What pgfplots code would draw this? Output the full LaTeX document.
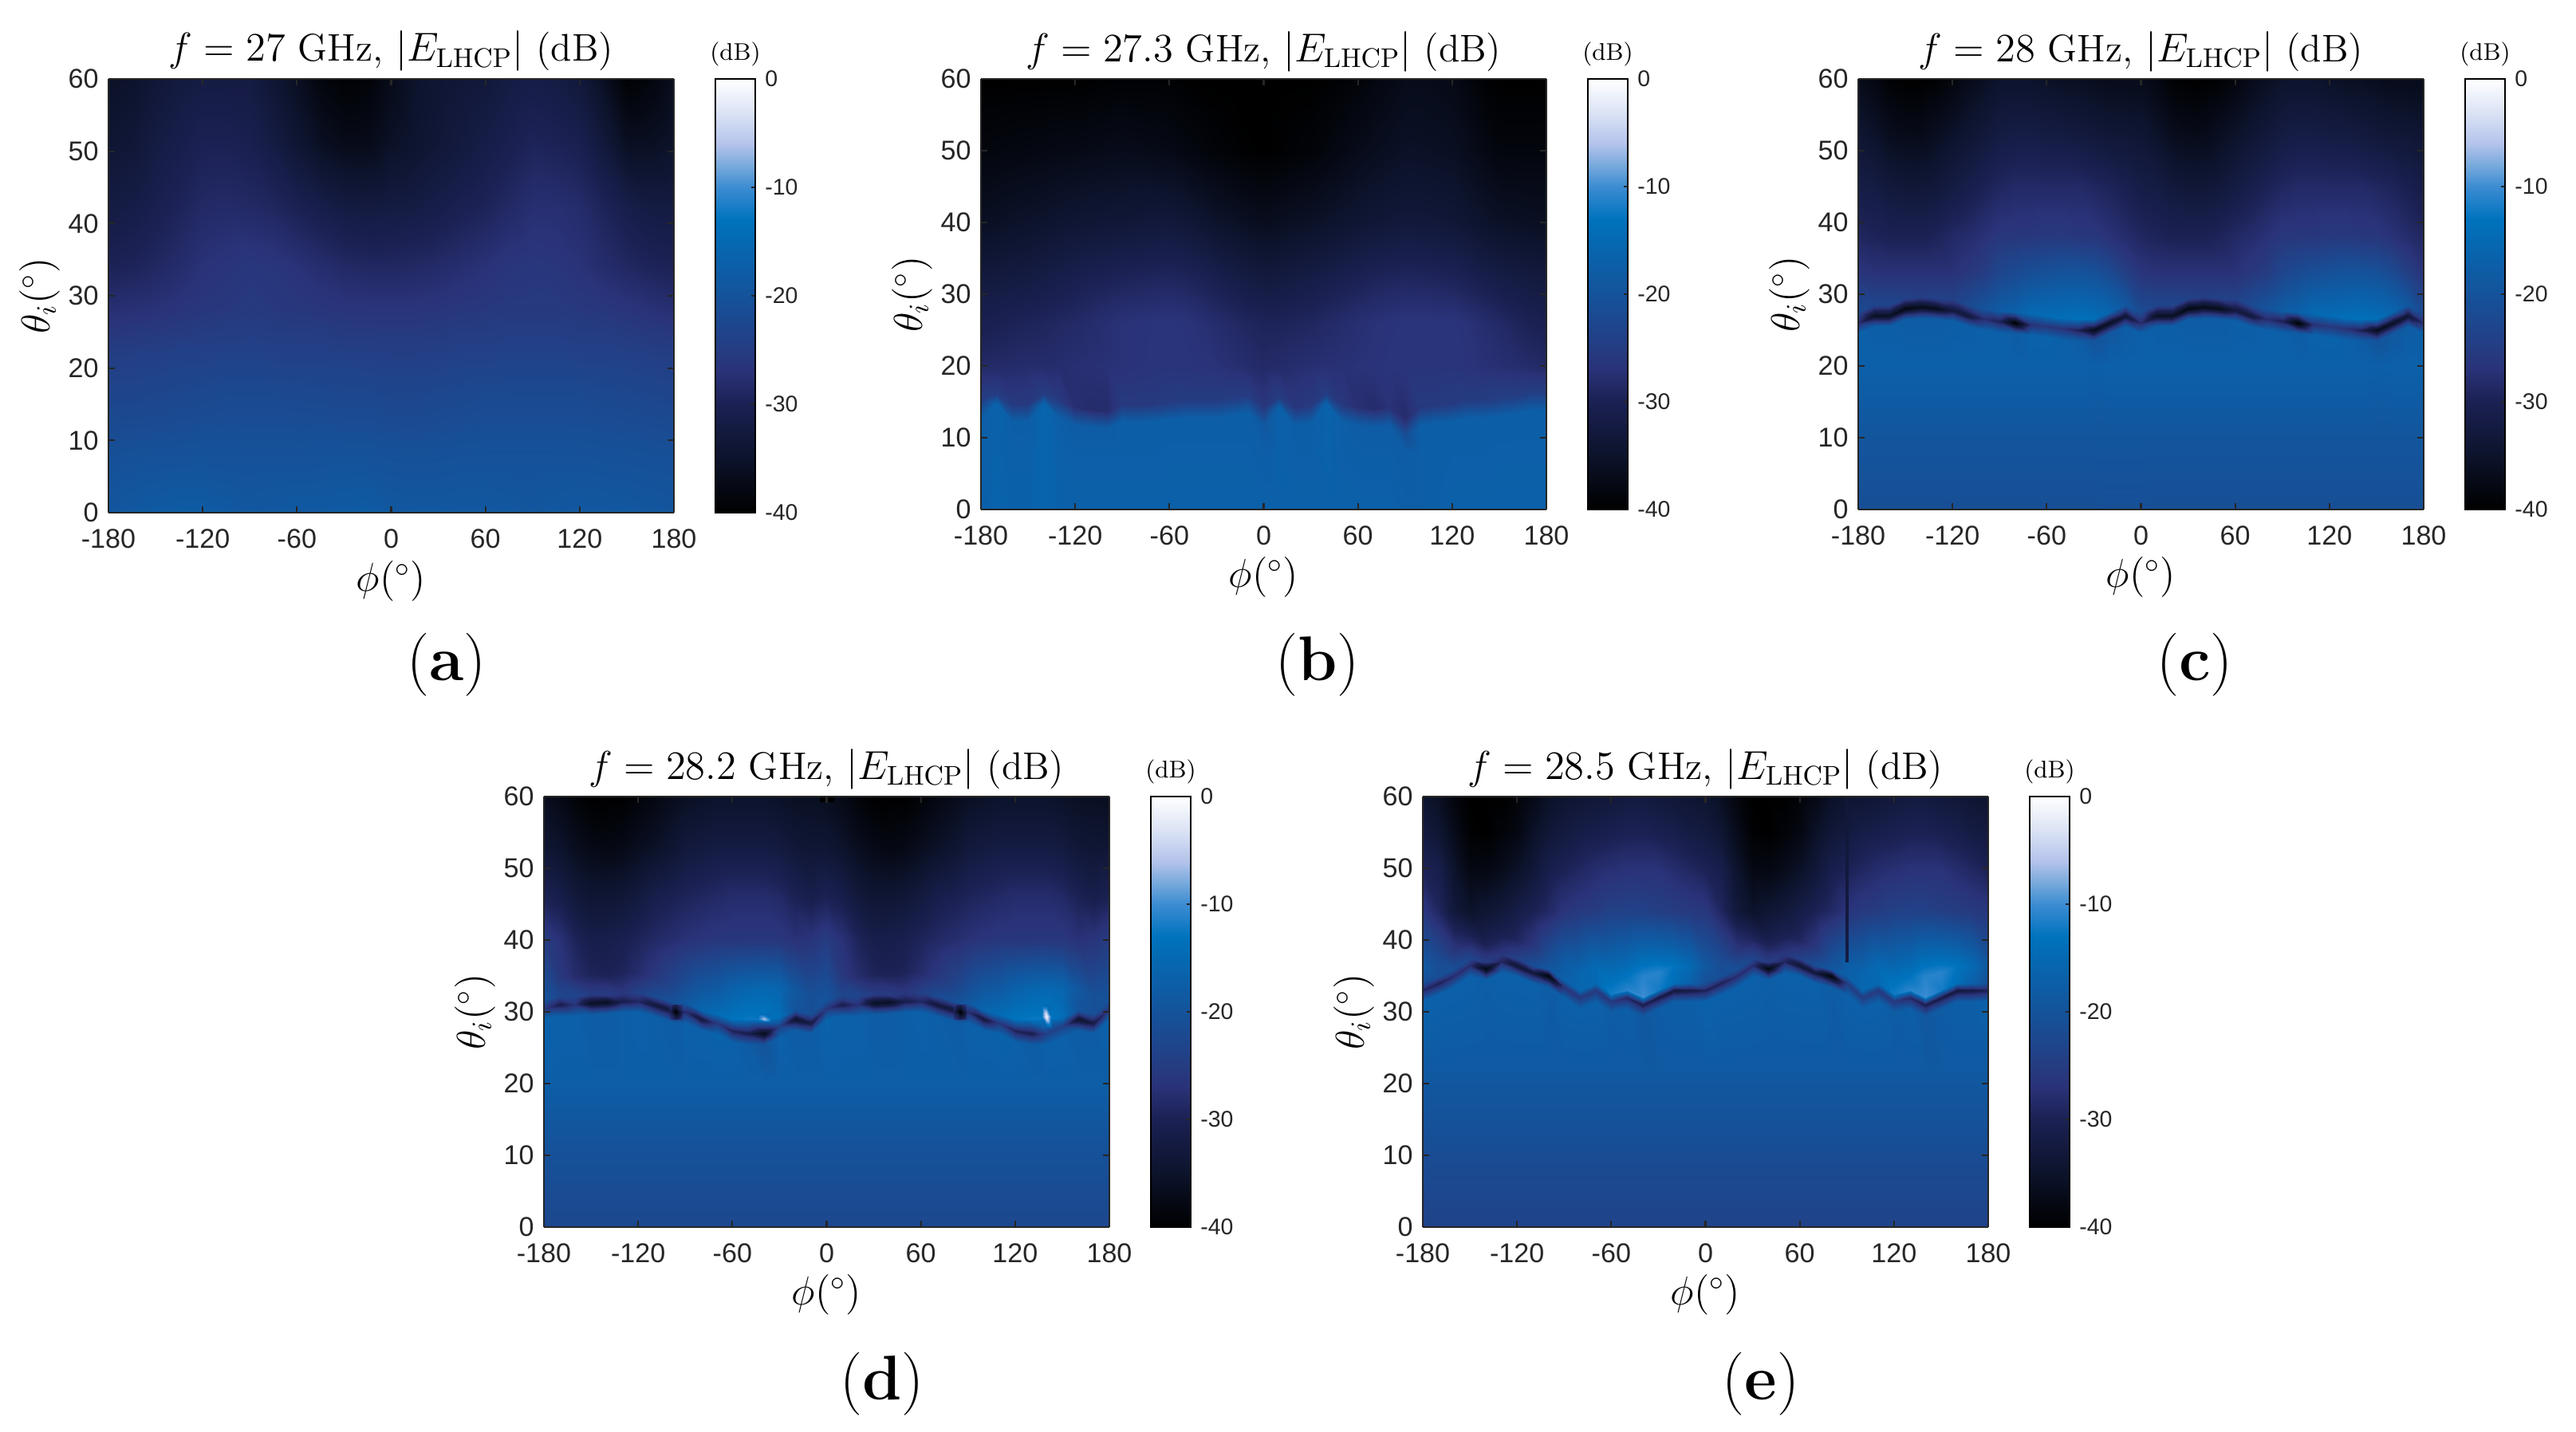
\documentclass[border=0pt]{standalone}
\usepackage{fontspec}
\usepackage{pgfplots}
\pgfplotsset{compat=1.18}
\newfontfamily\tickfont{Liberation Sans}
\definecolor{axc}{RGB}{38,38,38}
\pgfplotsset{
  colormap={dbm}{rgb255(0pt)=(0,0,0); rgb255(5pt)=(12,19,43); rgb255(10pt)=(27,33,83); rgb255(13pt)=(42,50,120);
    rgb255(15pt)=(37,60,130); rgb255(20pt)=(20,83,155); rgb255(25pt)=(5,105,178); rgb255(27pt)=(0,115,190);
    rgb255(30pt)=(60,140,210); rgb255(32pt)=(120,170,220); rgb255(34pt)=(180,195,235); rgb255(37pt)=(220,228,245); rgb255(40pt)=(255,255,255)},
  panel/.style={
    view={0}{90}, scale only axis, width=7.09cm, height=5.40cm,
    xmin=-180, xmax=180, ymin=0, ymax=60, zmin=-40, zmax=0,
    point meta min=-40, point meta max=0,
    xtick={-180,-120,-60,0,60,120,180}, xticklabels={-180,-120,-60,0,60,120,180},
    ytick={0,10,20,30,40,50,60}, yticklabels={0,10,20,30,40,50,60},
    tick align=inside, major tick length=0.08cm, axis on top,
    axis line style={draw=axc, line width=0.6pt},
    every tick/.style={draw=axc, line width=0.6pt},
    tick label style={font=\tickfont\fontsize{9.7}{11}\selectfont, text=axc},
    xticklabel style={yshift=-0.08cm},
    xlabel={$\phi(^\circ)$}, ylabel={$\theta_i(^\circ)$},
    every axis x label/.style={at={(axis description cs:0.5,-0.158)}, anchor=center, font=\fontsize{14}{16}\selectfont},
    every axis y label/.style={at={(axis description cs:-0.122,0.5)}, anchor=center, rotate=90, font=\fontsize{14}{16}\selectfont},
    every axis title/.style={at={(axis description cs:0.5,1.064)}, anchor=center, font=\fontsize{13.75}{16}\selectfont},
    colorbar, colorbar shift/.style={xshift=0.52cm},
    colorbar style={
      at={(parent axis.north east)}, anchor=north west, width=0.50cm,
      ytick={-40,-30,-20,-10,0}, yticklabels={-40,-30,-20,-10,0},
      ytick pos=right, yticklabel pos=right, major tick length=0.05cm,
      tick label style={font=\tickfont\fontsize{8.1}{10}\selectfont, text=axc},
      title={(dB)},
      every axis title/.style={at={(axis description cs:0.5,1.058)}, anchor=center, font=\fontsize{8.6}{10}\selectfont},
    },
  },
  hm/.style={surf, shader=interp, mesh/ordering=x varies, mesh/cols=#1},
}
\begin{document}
\begin{tikzpicture}
\path[use as bounding box] (0,0) rectangle (32.30,17.96);

% (a) 27 GHz
\begin{axis}[panel, at={(1.36cm,11.53cm)}, anchor=south west, height=5.44cm, title={$f=27$ GHz, $|E_{\mathrm{LHCP}}|$ (dB)}]
\addplot3[hm=25] coordinates {
(-180,0,-19.5) (-165,0,-18.8) (-150,0,-18.3) (-135,0,-18) (-120,0,-18) (-105,0,-18.5) (-90,0,-19) (-75,0,-18.8) (-60,0,-18.5) (-45,0,-18.5) (-30,0,-18.2) (-15,0,-18) (0,0,-18.8) (15,0,-19) (30,0,-19) (45,0,-18.8) (60,0,-18.8) (75,0,-19) (90,0,-19.3) (105,0,-19) (120,0,-18.8) (135,0,-18.8) (150,0,-19) (165,0,-19.2) (180,0,-19.5)
(-180,8,-20.8) (-165,8,-20.6) (-150,8,-20.5) (-135,8,-20.4) (-120,8,-20.3) (-105,8,-20.3) (-90,8,-20.4) (-75,8,-20.4) (-60,8,-20.4) (-45,8,-20.3) (-30,8,-20.3) (-15,8,-20.3) (0,8,-20.5) (15,8,-20.6) (30,8,-20.5) (45,8,-20.4) (60,8,-20.3) (75,8,-20.3) (90,8,-20.3) (105,8,-20.3) (120,8,-20.4) (135,8,-20.5) (150,8,-20.6) (165,8,-20.7) (180,8,-20.8)
(-180,16,-23) (-165,16,-23) (-150,16,-22.8) (-135,16,-22.5) (-120,16,-22.3) (-105,16,-22) (-90,16,-22) (-75,16,-22) (-60,16,-22.2) (-45,16,-22.3) (-30,16,-22.5) (-15,16,-22.5) (0,16,-22.8) (15,16,-22.8) (30,16,-22.5) (45,16,-22.3) (60,16,-22) (75,16,-22) (90,16,-22) (105,16,-22) (120,16,-22) (135,16,-22.3) (150,16,-22.5) (165,16,-22.8) (180,16,-23)
(-180,22,-24.5) (-165,22,-24.5) (-150,22,-24.3) (-135,22,-24) (-120,22,-24) (-105,22,-23.8) (-90,22,-23.8) (-75,22,-24) (-60,22,-24) (-45,22,-24) (-30,22,-24.2) (-15,22,-24.3) (0,22,-24.5) (15,22,-24.5) (30,22,-24.3) (45,22,-24) (60,22,-24) (75,22,-23.8) (90,22,-23.8) (105,22,-23.8) (120,22,-24) (135,22,-24) (150,22,-24.2) (165,22,-24.5) (180,22,-24.5)
(-180,28,-27.5) (-165,28,-27.2) (-150,28,-27) (-135,28,-26.5) (-120,28,-26) (-105,28,-25.8) (-90,28,-25.5) (-75,28,-25.8) (-60,28,-26) (-45,28,-26.2) (-30,28,-26.5) (-15,28,-26.5) (0,28,-26.5) (15,28,-26.5) (30,28,-26.3) (45,28,-26) (60,28,-25.8) (75,28,-25.5) (90,28,-25.5) (105,28,-25.5) (120,28,-25.8) (135,28,-26) (150,28,-26.5) (165,28,-27) (180,28,-27.5)
(-180,34,-29.8) (-165,34,-29.5) (-150,34,-28.8) (-135,34,-28) (-120,34,-27) (-105,34,-26.5) (-90,34,-26) (-75,34,-26.3) (-60,34,-27) (-45,34,-27.8) (-30,34,-28.5) (-15,34,-28.8) (0,34,-28.8) (15,34,-28.6) (30,34,-28.2) (45,34,-27.6) (60,34,-27) (75,34,-26.3) (90,34,-26) (105,34,-26.3) (120,34,-27) (135,34,-28) (150,34,-28.8) (165,34,-29.5) (180,34,-29.8)
(-180,42,-32) (-165,42,-31.5) (-150,42,-30.5) (-135,42,-29.5) (-120,42,-28.5) (-105,42,-28.3) (-90,42,-28.5) (-75,42,-29) (-60,42,-30) (-45,42,-31) (-30,42,-32) (-15,42,-32.3) (0,42,-32) (15,42,-31.8) (30,42,-31) (45,42,-30.2) (60,42,-29.5) (75,42,-28.5) (90,42,-27.5) (105,42,-27.5) (120,42,-28) (135,42,-29.5) (150,42,-31) (165,42,-32) (180,42,-32)
(-180,51,-34) (-165,51,-33.5) (-150,51,-32) (-135,51,-31) (-120,51,-30) (-105,51,-30) (-90,51,-30.5) (-75,51,-32) (-60,51,-34) (-45,51,-36) (-30,51,-37) (-15,51,-37) (0,51,-35.5) (15,51,-34.5) (30,51,-33.5) (45,51,-32.5) (60,51,-31.5) (75,51,-30.5) (90,51,-29.5) (105,51,-29.8) (120,51,-30.5) (135,51,-33) (150,51,-36) (165,51,-36) (180,51,-35)
(-180,60,-35.5) (-165,60,-35) (-150,60,-33.5) (-135,60,-32.5) (-120,60,-32) (-105,60,-32) (-90,60,-32) (-75,60,-34) (-60,60,-36) (-45,60,-38.5) (-30,60,-39.5) (-15,60,-39) (0,60,-37) (15,60,-35) (30,60,-34) (45,60,-33.5) (60,60,-33) (75,60,-32) (90,60,-31.5) (105,60,-32) (120,60,-33) (135,60,-36) (150,60,-39.5) (165,60,-38.5) (180,60,-36.5)
};
\end{axis}

% (b) 27.3 GHz
\begin{axis}[panel, at={(12.30cm,11.57cm)}, anchor=south west, title={$f=27.3$ GHz, $|E_{\mathrm{LHCP}}|$ (dB)}]
\addplot3[hm=37] coordinates {
(-180,0,-17) (-170,0,-16.3) (-160,0,-16.8) (-150,0,-16.8) (-140,0,-16) (-130,0,-16.8) (-120,0,-17) (-110,0,-17) (-100,0,-17) (-90,0,-17) (-80,0,-17) (-70,0,-17) (-60,0,-17) (-50,0,-17) (-40,0,-17) (-30,0,-17) (-20,0,-17) (-10,0,-17) (0,0,-17) (10,0,-17) (20,0,-17) (30,0,-17) (40,0,-17) (50,0,-17) (60,0,-17) (70,0,-17) (80,0,-17) (90,0,-17.5) (100,0,-17.5) (110,0,-17.3) (120,0,-17) (130,0,-17) (140,0,-17) (150,0,-17) (160,0,-17) (170,0,-17) (180,0,-17)
(-180,8,-17.2) (-170,8,-16.5) (-160,8,-17) (-150,8,-17) (-140,8,-16) (-130,8,-17) (-120,8,-17.3) (-110,8,-17.3) (-100,8,-17.3) (-90,8,-17.3) (-80,8,-17.3) (-70,8,-17.3) (-60,8,-17.2) (-50,8,-17.2) (-40,8,-17.2) (-30,8,-17.2) (-20,8,-17.2) (-10,8,-17.2) (0,8,-17.6) (10,8,-16.8) (20,8,-17.3) (30,8,-17.3) (40,8,-16.5) (50,8,-17.3) (60,8,-17.5) (70,8,-17.5) (80,8,-17.5) (90,8,-18) (100,8,-17.5) (110,8,-17.5) (120,8,-17.3) (130,8,-17.3) (140,8,-17.3) (150,8,-17.2) (160,8,-17.2) (170,8,-17.2) (180,8,-17.2)
(-180,12.8,-17.5) (-170,14.8,-16.5) (-160,12.3,-17.5) (-150,12.3,-17.5) (-140,14.8,-16) (-130,12.8,-17.5) (-120,11.8,-18) (-110,11.5,-18) (-100,11.3,-18) (-90,12.3,-17.5) (-80,12.1,-17.5) (-70,12.3,-17.5) (-60,12.5,-17.5) (-50,12.8,-17.5) (-40,12.8,-17.5) (-30,12.8,-17.5) (-20,13.1,-17.5) (-10,13.5,-17.5) (0,11.8,-19) (10,14.3,-17) (20,11.8,-17.5) (30,12.1,-17.5) (40,14.8,-16.5) (50,12.3,-17.5) (60,11.8,-18) (70,11.6,-18) (80,11.8,-18) (90,10.3,-21) (100,11.8,-17.5) (110,12.1,-17.5) (120,12.3,-17.5) (130,12.8,-17.5) (140,12.8,-17.5) (150,13,-17.5) (160,13.3,-17.5) (170,13.8,-17.5) (180,13.8,-17.5)
(-180,15.2,-24.5) (-170,16.2,-25) (-160,14.7,-25.5) (-150,14.7,-25.5) (-140,16.2,-25) (-130,15.2,-25.5) (-120,14.2,-27.5) (-110,13.9,-28) (-100,13.7,-28) (-90,14.7,-25.5) (-80,14.5,-25.5) (-70,14.7,-25.5) (-60,14.9,-25) (-50,15.2,-25) (-40,15.2,-25) (-30,15.2,-25) (-20,15.5,-25) (-10,15.9,-25) (0,14.2,-26) (10,15.7,-25) (20,14.2,-26) (30,14.5,-25.5) (40,16.2,-25) (50,14.7,-26) (60,14.2,-27.5) (70,14,-28) (80,14.2,-27) (90,12.7,-28) (100,14.2,-25.5) (110,14.5,-25.5) (120,14.7,-25) (130,15.2,-25) (140,15.2,-25) (150,15.4,-24.5) (160,15.7,-24.5) (170,16.2,-24.5) (180,16.2,-24.5)
(-180,20,-28.5) (-170,20,-28.3) (-160,20,-28.2) (-150,20,-28) (-140,20,-28) (-130,20,-27.8) (-120,20,-27.5) (-110,20,-27.3) (-100,20,-27.2) (-90,20,-27) (-80,20,-26.8) (-70,20,-26.6) (-60,20,-26.5) (-50,20,-26.6) (-40,20,-26.8) (-30,20,-27) (-20,20,-27.5) (-10,20,-28) (0,20,-28.5) (10,20,-28.2) (20,20,-27.8) (30,20,-27.5) (40,20,-27.3) (50,20,-27.2) (60,20,-27) (70,20,-26.8) (80,20,-26.6) (90,20,-26.5) (100,20,-26.5) (110,20,-26.5) (120,20,-26.5) (130,20,-26.8) (140,20,-27.2) (150,20,-27.5) (160,20,-27.8) (170,20,-28.2) (180,20,-28.5)
(-180,26,-30.5) (-170,26,-30.2) (-160,26,-29.8) (-150,26,-29.5) (-140,26,-29.2) (-130,26,-28.8) (-120,26,-28.5) (-110,26,-28) (-100,26,-27.5) (-90,26,-27) (-80,26,-26.8) (-70,26,-26.7) (-60,26,-26.5) (-50,26,-26.8) (-40,26,-27.3) (-30,26,-28) (-20,26,-28.5) (-10,26,-29.1) (0,26,-29.5) (10,26,-29.5) (20,26,-29.3) (30,26,-29) (40,26,-28.5) (50,26,-28) (60,26,-27.5) (70,26,-27.1) (80,26,-26.8) (90,26,-26.5) (100,26,-26.5) (110,26,-26.5) (120,26,-26.5) (130,26,-27.1) (140,26,-27.8) (150,26,-28.5) (160,26,-29.3) (170,26,-30) (180,26,-30.5)
(-180,32,-32.5) (-170,32,-32.4) (-160,32,-32.2) (-150,32,-32) (-140,32,-31.5) (-130,32,-31) (-120,32,-30.5) (-110,32,-30.1) (-100,32,-29.8) (-90,32,-29.5) (-80,32,-29.3) (-70,32,-29.1) (-60,32,-29) (-50,32,-29.3) (-40,32,-29.8) (-30,32,-30.5) (-20,32,-31.3) (-10,32,-32) (0,32,-32.5) (10,32,-32.3) (20,32,-31.9) (30,32,-31.5) (40,32,-31) (50,32,-30.5) (60,32,-30) (70,32,-29.5) (80,32,-29.2) (90,32,-29) (100,32,-29.1) (110,32,-29.3) (120,32,-29.5) (130,32,-30.1) (140,32,-30.8) (150,32,-31.5) (160,32,-31.9) (170,32,-32.3) (180,32,-32.5)
(-180,40,-36) (-170,40,-35.7) (-160,40,-35.3) (-150,40,-35) (-140,40,-34.7) (-130,40,-34.3) (-120,40,-34) (-110,40,-33.8) (-100,40,-33.6) (-90,40,-33.5) (-80,40,-33.3) (-70,40,-33.1) (-60,40,-33) (-50,40,-33.5) (-40,40,-34.2) (-30,40,-35) (-20,40,-35.5) (-10,40,-36.1) (0,40,-36.5) (10,40,-36.2) (20,40,-35.8) (30,40,-35.5) (40,40,-35) (50,40,-34.5) (60,40,-34) (70,40,-33.6) (80,40,-33.3) (90,40,-33) (100,40,-33.1) (110,40,-33.3) (120,40,-33.5) (130,40,-34.2) (140,40,-34.9) (150,40,-35.5) (160,40,-35.7) (170,40,-35.9) (180,40,-36)
(-180,50,-38.5) (-170,50,-38.3) (-160,50,-38.1) (-150,50,-38) (-140,50,-37.8) (-130,50,-37.6) (-120,50,-37.5) (-110,50,-37.3) (-100,50,-37.1) (-90,50,-37) (-80,50,-37.1) (-70,50,-37.3) (-60,50,-37.5) (-50,50,-38) (-40,50,-38.5) (-30,50,-39) (-20,50,-39.4) (-10,50,-39.8) (0,50,-40) (10,50,-39.7) (20,50,-39.3) (30,50,-39) (40,50,-38.4) (50,50,-37.7) (60,50,-37) (70,50,-36.5) (80,50,-36) (90,50,-35.5) (100,50,-35.6) (110,50,-35.8) (120,50,-36) (130,50,-36.8) (140,50,-37.7) (150,50,-38.5) (160,50,-38.5) (170,50,-38.5) (180,50,-38.5)
(-180,60,-40) (-170,60,-40) (-160,60,-40) (-150,60,-40) (-140,60,-40) (-130,60,-40) (-120,60,-40) (-110,60,-39.8) (-100,60,-39.6) (-90,60,-39.5) (-80,60,-39.5) (-70,60,-39.5) (-60,60,-39.5) (-50,60,-39.8) (-40,60,-40) (-30,60,-40) (-20,60,-40) (-10,60,-40) (0,60,-40) (10,60,-40) (20,60,-40) (30,60,-40) (40,60,-39.8) (50,60,-39.4) (60,60,-39) (70,60,-38.3) (80,60,-37.7) (90,60,-37) (100,60,-37) (110,60,-37.2) (120,60,-37.5) (130,60,-38.5) (140,60,-39.5) (150,60,-40) (160,60,-40) (170,60,-40) (180,60,-40)
};
\end{axis}

% (c) 28 GHz
\begin{axis}[panel, at={(23.30cm,11.57cm)}, anchor=south west, title={$f=28$ GHz, $|E_{\mathrm{LHCP}}|$ (dB)}]
\addplot3[hm=37] coordinates {
(-180,0,-21) (-170,0,-21) (-160,0,-21) (-150,0,-21) (-140,0,-21) (-130,0,-21) (-120,0,-21) (-110,0,-21) (-100,0,-21) (-90,0,-21) (-80,0,-21) (-70,0,-21) (-60,0,-21) (-50,0,-21) (-40,0,-21) (-30,0,-21) (-20,0,-20.8) (-10,0,-20.8) (0,0,-20.8) (10,0,-21) (20,0,-21) (30,0,-21) (40,0,-21) (50,0,-21) (60,0,-21) (70,0,-21) (80,0,-21) (90,0,-21) (100,0,-21) (110,0,-21) (120,0,-21) (130,0,-21) (140,0,-21) (150,0,-21) (160,0,-21) (170,0,-21) (180,0,-21)
(-180,10,-19.5) (-170,10,-19.5) (-160,10,-19.5) (-150,10,-19.5) (-140,10,-19.5) (-130,10,-19.5) (-120,10,-19.5) (-110,10,-19.5) (-100,10,-19.5) (-90,10,-19.5) (-80,10,-19.5) (-70,10,-19.5) (-60,10,-19.5) (-50,10,-19.5) (-40,10,-19.5) (-30,10,-19.5) (-20,10,-19.5) (-10,10,-19.5) (0,10,-19.5) (10,10,-19.5) (20,10,-19.5) (30,10,-19.5) (40,10,-19.5) (50,10,-19.5) (60,10,-19.5) (70,10,-19.5) (80,10,-19.5) (90,10,-19.5) (100,10,-19.5) (110,10,-19.5) (120,10,-19.5) (130,10,-19.5) (140,10,-19.5) (150,10,-19.5) (160,10,-19.5) (170,10,-19.5) (180,10,-19.5)
(-180,20,-17) (-170,20,-17) (-160,20,-17) (-150,20,-17) (-140,20,-17) (-130,20,-17) (-120,20,-17) (-110,20,-17) (-100,20,-17) (-90,20,-17) (-80,20,-17) (-70,20,-17) (-60,20,-17) (-50,20,-17) (-40,20,-17) (-30,20,-17.3) (-20,20,-17) (-10,20,-17) (0,20,-17) (10,20,-17) (20,20,-17) (30,20,-17) (40,20,-17) (50,20,-17) (60,20,-17) (70,20,-17) (80,20,-17) (90,20,-17) (100,20,-17) (110,20,-17) (120,20,-17) (130,20,-17) (140,20,-17) (150,20,-17.3) (160,20,-17) (170,20,-17) (180,20,-17)
(-180,24.5,-17) (-170,25.5,-17.5) (-160,25.5,-17.5) (-150,26.5,-18) (-140,26.7,-18) (-130,26.5,-18) (-120,26.3,-17.5) (-110,25.5,-17.5) (-100,25,-17) (-90,24.7,-17) (-80,24.5,-18) (-70,24.3,-16.5) (-60,24,-16.5) (-50,23.7,-17) (-40,23.5,-18) (-30,23.5,-20) (-20,24.5,-19) (-10,25.5,-18) (0,24.5,-17) (10,25.5,-17.5) (20,25.5,-17.5) (30,26.5,-18) (40,26.7,-18) (50,26.5,-18) (60,26.3,-17.5) (70,25.5,-17.5) (80,25,-17) (90,24.7,-17) (100,24.5,-18) (110,24.3,-16.5) (120,24,-16.5) (130,23.7,-17) (140,23.5,-18) (150,23.5,-20) (160,24.5,-19) (170,25.5,-18) (180,24.5,-17)
(-180,26,-28) (-170,27,-36) (-160,27,-36) (-150,28,-38) (-140,28.2,-37) (-130,28,-37) (-120,27.8,-33) (-110,27,-33) (-100,26.5,-28) (-90,26.2,-30) (-80,26,-40) (-70,25.8,-27) (-60,25.5,-26) (-50,25.2,-27) (-40,25,-30) (-30,25,-37) (-20,26,-36) (-10,27,-34) (0,26,-28) (10,27,-36) (20,27,-36) (30,28,-38) (40,28.2,-37) (50,28,-37) (60,27.8,-33) (70,27,-33) (80,26.5,-28) (90,26.2,-30) (100,26,-40) (110,25.8,-27) (120,25.5,-26) (130,25.2,-27) (140,25,-30) (150,25,-37) (160,26,-36) (170,27,-34) (180,26,-28)
(-180,27.5,-22) (-170,28.5,-23) (-160,28.5,-23) (-150,29.5,-24) (-140,29.7,-24.5) (-130,29.5,-24) (-120,29.3,-24) (-110,28.5,-22) (-100,28,-20) (-90,27.7,-18) (-80,27.5,-17) (-70,27.3,-15) (-60,27,-14.5) (-50,26.7,-14) (-40,26.5,-13.5) (-30,26.5,-14) (-20,27.5,-16) (-10,28.5,-19) (0,27.5,-22) (10,28.5,-23) (20,28.5,-23) (30,29.5,-24) (40,29.7,-24.5) (50,29.5,-24) (60,29.3,-24) (70,28.5,-22) (80,28,-20) (90,27.7,-18) (100,27.5,-17) (110,27.3,-15) (120,27,-14.5) (130,26.7,-14) (140,26.5,-13.5) (150,26.5,-14) (160,27.5,-16) (170,28.5,-19) (180,27.5,-22)
(-180,33,-26.5) (-170,33,-27) (-160,33,-27) (-150,33,-27) (-140,33,-27) (-130,33,-27) (-120,33,-27) (-110,33,-26) (-100,33,-25) (-90,33,-23) (-80,33,-22) (-70,33,-21) (-60,33,-20.5) (-50,33,-20) (-40,33,-20) (-30,33,-20.5) (-20,33,-22) (-10,33,-24.5) (0,33,-26.5) (10,33,-27) (20,33,-27) (30,33,-27) (40,33,-27) (50,33,-27) (60,33,-27) (70,33,-26) (80,33,-25) (90,33,-23) (100,33,-22) (110,33,-21) (120,33,-20.5) (130,33,-20) (140,33,-20) (150,33,-20.5) (160,33,-22) (170,33,-24.5) (180,33,-26.5)
(-180,38,-29) (-170,38,-29.5) (-160,38,-30) (-150,38,-30) (-140,38,-30) (-130,38,-29.5) (-120,38,-28.5) (-110,38,-28) (-100,38,-27) (-90,38,-26) (-80,38,-26) (-70,38,-26) (-60,38,-25.5) (-50,38,-25.5) (-40,38,-26) (-30,38,-26) (-20,38,-27) (-10,38,-28) (0,38,-29) (10,38,-29.5) (20,38,-30) (30,38,-30) (40,38,-30) (50,38,-29.5) (60,38,-28.5) (70,38,-28) (80,38,-27) (90,38,-26) (100,38,-26) (110,38,-26) (120,38,-25.5) (130,38,-25.5) (140,38,-26) (150,38,-26) (160,38,-27) (170,38,-28) (180,38,-29)
(-180,45,-31.5) (-170,45,-32) (-160,45,-33) (-150,45,-33.5) (-140,45,-33.5) (-130,45,-33) (-120,45,-32) (-110,45,-31) (-100,45,-30) (-90,45,-29) (-80,45,-28.5) (-70,45,-28.5) (-60,45,-28.5) (-50,45,-28.5) (-40,45,-28.5) (-30,45,-29) (-20,45,-29.5) (-10,45,-30.5) (0,45,-31.5) (10,45,-32) (20,45,-33) (30,45,-33.5) (40,45,-33.5) (50,45,-33) (60,45,-32) (70,45,-31) (80,45,-30) (90,45,-29) (100,45,-28.5) (110,45,-28.5) (120,45,-28.5) (130,45,-28.5) (140,45,-28.5) (150,45,-29) (160,45,-29.5) (170,45,-30.5) (180,45,-31.5)
(-180,52,-34) (-170,52,-35) (-160,52,-36.5) (-150,52,-37) (-140,52,-37) (-130,52,-36) (-120,52,-35) (-110,52,-34) (-100,52,-33) (-90,52,-32) (-80,52,-31.5) (-70,52,-31.5) (-60,52,-32) (-50,52,-32) (-40,52,-32.5) (-30,52,-33) (-20,52,-33.5) (-10,52,-33.5) (0,52,-34) (10,52,-35) (20,52,-36.5) (30,52,-37) (40,52,-37) (50,52,-36) (60,52,-35) (70,52,-34) (80,52,-33) (90,52,-32) (100,52,-31.5) (110,52,-31.5) (120,52,-32) (130,52,-32) (140,52,-32.5) (150,52,-33) (160,52,-33.5) (170,52,-33.5) (180,52,-34)
(-180,60,-37) (-170,60,-38) (-160,60,-39.5) (-150,60,-40) (-140,60,-40) (-130,60,-39.5) (-120,60,-38.5) (-110,60,-37) (-100,60,-36) (-90,60,-35) (-80,60,-35) (-70,60,-35) (-60,60,-35.5) (-50,60,-36) (-40,60,-36) (-30,60,-36.5) (-20,60,-37) (-10,60,-37) (0,60,-37) (10,60,-38) (20,60,-39.5) (30,60,-40) (40,60,-40) (50,60,-39.5) (60,60,-38.5) (70,60,-37) (80,60,-36) (90,60,-35) (100,60,-35) (110,60,-35) (120,60,-35.5) (130,60,-36) (140,60,-36) (150,60,-36.5) (160,60,-37) (170,60,-37) (180,60,-37)
};
\end{axis}

% (d) 28.2 GHz
\begin{axis}[panel, at={(6.82cm,2.57cm)}, anchor=south west, title={$f=28.2$ GHz, $|E_{\mathrm{LHCP}}|$ (dB)}]
\addplot3[hm=37] coordinates {
(-180,0,-22.5) (-170,0,-22.5) (-160,0,-22.5) (-150,0,-22.5) (-140,0,-22.5) (-130,0,-22.5) (-120,0,-22.5) (-110,0,-22.5) (-96,0,-22.5) (-90,0,-22.5) (-80,0,-22.5) (-70,0,-22.5) (-60,0,-22.5) (-50,0,-22.5) (-40,0,-22.5) (-30,0,-22.5) (-20,0,-22.5) (-10,0,-22.5) (0,0,-22.5) (10,0,-22.5) (20,0,-22.5) (30,0,-22.5) (40,0,-22.5) (50,0,-22.5) (60,0,-22.5) (70,0,-22.5) (85,0,-22.5) (90,0,-22.5) (100,0,-22.5) (110,0,-22.5) (120,0,-22.5) (130,0,-22.5) (140,0,-22.5) (150,0,-22.5) (160,0,-22.5) (170,0,-22.5) (180,0,-22.5)
(-180,10,-20.5) (-170,10,-20.5) (-160,10,-20.5) (-150,10,-20.5) (-140,10,-20.5) (-130,10,-20.5) (-120,10,-20.5) (-110,10,-20.5) (-96,10,-20.5) (-90,10,-20.5) (-80,10,-20.5) (-70,10,-20.5) (-60,10,-20.5) (-50,10,-20.5) (-40,10,-20.5) (-30,10,-20.5) (-20,10,-20.5) (-10,10,-20.5) (0,10,-20.5) (10,10,-20.5) (20,10,-20.5) (30,10,-20.5) (40,10,-20.5) (50,10,-20.5) (60,10,-20.5) (70,10,-20.5) (85,10,-20.5) (90,10,-20.5) (100,10,-20.5) (110,10,-20.5) (120,10,-20.5) (130,10,-20.5) (140,10,-20.5) (150,10,-20.5) (160,10,-20.5) (170,10,-20.5) (180,10,-20.5)
(-180,20,-17.5) (-170,20,-17.5) (-160,20,-17.5) (-150,20,-17.5) (-140,20,-17.5) (-130,20,-17.5) (-120,20,-17.5) (-110,20,-17.5) (-96,20,-17.5) (-90,20,-17.5) (-80,20,-17.5) (-70,20,-17.5) (-60,20,-17.5) (-50,20,-17.5) (-40,20,-17.5) (-30,20,-17.5) (-20,20,-17.5) (-10,20,-17.5) (0,20,-17.5) (10,20,-17.5) (20,20,-17.5) (30,20,-17.5) (40,20,-17.5) (50,20,-17.5) (60,20,-17.5) (70,20,-17.5) (85,20,-17.5) (90,20,-17.5) (100,20,-17.5) (110,20,-17.5) (120,20,-17.5) (130,20,-17.5) (140,20,-17.5) (150,20,-17.5) (160,20,-17.5) (170,20,-17.5) (180,20,-17.5)
(-180,29,-16.5) (-170,29.5,-17) (-160,29.5,-17) (-150,29.7,-18) (-140,29.8,-18) (-130,30,-17.5) (-120,30,-17) (-110,29.5,-17.5) (-96,28.5,-18) (-90,28.5,-17) (-80,27.5,-17) (-70,27,-16.5) (-60,25.8,-17) (-50,25.5,-18) (-40,25.5,-20) (-30,26.5,-17) (-20,27.5,-18) (-10,27,-18) (0,29,-16.5) (10,29.5,-17) (20,29.5,-17) (30,29.7,-18) (40,29.8,-18) (50,30,-17.5) (60,30,-17) (70,29.5,-17.5) (85,28.5,-18) (90,28.5,-17) (100,27.5,-17) (110,27,-16.5) (120,25.8,-17) (130,25.5,-18) (140,25.5,-17) (150,26.5,-17) (160,27.5,-18) (170,27,-18) (180,29,-16.5)
(-180,30.5,-26) (-170,31,-31) (-160,31,-27) (-150,31.2,-36) (-140,31.3,-36) (-130,31.5,-31) (-120,31.5,-29) (-110,31,-33) (-96,30,-33) (-90,30,-28) (-80,29,-33) (-70,28.5,-26) (-60,27.3,-30) (-50,27,-31) (-40,27,-37) (-30,28,-24) (-20,29,-35) (-10,28.5,-32) (0,30.5,-26) (10,31,-31) (20,31,-27) (30,31.2,-36) (40,31.3,-36) (50,31.5,-31) (60,31.5,-29) (70,31,-33) (85,30,-33) (90,30,-28) (100,29,-33) (110,28.5,-26) (120,27.3,-30) (130,27,-31) (140,27,-24) (150,28,-24) (160,29,-35) (170,28.5,-32) (180,30.5,-26)
(-180,31.7,-20) (-170,32.2,-23) (-160,32.2,-23) (-150,32.4,-25) (-140,32.5,-25) (-130,32.7,-26) (-120,32.7,-24) (-110,32.2,-22) (-96,31.2,-20) (-90,31.2,-19) (-80,30.2,-16) (-70,29.7,-14.5) (-60,29,-13) (-50,29,-12.5) (-40,29,-12.5) (-30,29.2,-14) (-20,30.2,-20) (-10,29.7,-21) (0,31.7,-20) (10,32.2,-23) (20,32.2,-23) (30,32.4,-25) (40,32.5,-25) (50,32.7,-26) (60,32.7,-24) (70,32.2,-22) (85,31.2,-20) (90,31.2,-19) (100,30.2,-16) (110,29.7,-14.5) (120,29,-13) (130,29,-12.5) (140,29,-12.5) (150,29.2,-14) (160,30.2,-20) (170,29.7,-21) (180,31.7,-20)
(-180,34.5,-21.5) (-170,35,-26) (-160,35,-28) (-150,35.2,-29.5) (-140,35.3,-30) (-130,35.5,-29.5) (-120,35.5,-28) (-110,35,-26) (-96,34,-23) (-90,34,-21.5) (-80,33,-19) (-70,32.5,-17.5) (-60,33,-16.5) (-50,33,-15.5) (-40,33,-15) (-30,33.5,-16) (-20,33,-19) (-10,32.5,-21) (0,34.5,-21.5) (10,35,-26) (20,35,-28) (30,35.2,-29.5) (40,35.3,-30) (50,35.5,-29.5) (60,35.5,-28) (70,35,-26) (85,34,-23) (90,34,-21.5) (100,33,-19) (110,32.5,-17.5) (120,33,-16.5) (130,33,-15.5) (140,33,-15) (150,33.5,-16) (160,33,-19) (170,32.5,-21) (180,34.5,-21.5)
(-180,40,-25) (-170,40,-27) (-160,40,-29.5) (-150,40,-31) (-140,40,-31) (-130,40,-30.5) (-120,40,-29.5) (-110,40,-28.5) (-96,40,-27.5) (-90,40,-27) (-80,40,-26.5) (-70,40,-26) (-60,40,-26) (-50,40,-26) (-40,40,-26) (-30,40,-26) (-20,40,-27) (-10,40,-26.5) (0,40,-25) (10,40,-27) (20,40,-29.5) (30,40,-31) (40,40,-31) (50,40,-30.5) (60,40,-29.5) (70,40,-28.5) (85,40,-27.5) (90,40,-27) (100,40,-26.5) (110,40,-26) (120,40,-26) (130,40,-26) (140,40,-26) (150,40,-26) (160,40,-27) (170,40,-26.5) (180,40,-25)
(-180,46,-30) (-170,46,-31) (-160,46,-33) (-150,46,-34) (-140,46,-34) (-130,46,-33.5) (-120,46,-32.5) (-110,46,-31) (-96,46,-30) (-90,46,-29.5) (-80,46,-29) (-70,46,-28.5) (-60,46,-28) (-50,46,-28) (-40,46,-28) (-30,46,-28.5) (-20,46,-30) (-10,46,-31) (0,46,-30) (10,46,-31) (20,46,-33) (30,46,-34) (40,46,-34) (50,46,-33.5) (60,46,-32.5) (70,46,-31) (85,46,-30) (90,46,-29.5) (100,46,-29) (110,46,-28.5) (120,46,-28) (130,46,-28) (140,46,-28) (150,46,-28.5) (160,46,-30) (170,46,-31) (180,46,-30)
(-180,53,-34) (-170,53,-35) (-160,53,-36.5) (-150,53,-37.5) (-140,53,-38) (-130,53,-37.5) (-120,53,-36.5) (-110,53,-35.5) (-96,53,-34) (-90,53,-33) (-80,53,-32.5) (-70,53,-32) (-60,53,-32) (-50,53,-32) (-40,53,-32) (-30,53,-32.5) (-20,53,-33.5) (-10,53,-34) (0,53,-34) (10,53,-35) (20,53,-36.5) (30,53,-37.5) (40,53,-38) (50,53,-37.5) (60,53,-36.5) (70,53,-35.5) (85,53,-34) (90,53,-33) (100,53,-32.5) (110,53,-32) (120,53,-32) (130,53,-32) (140,53,-32) (150,53,-32.5) (160,53,-33.5) (170,53,-34) (180,53,-34)
(-180,60,-36.5) (-170,60,-37.5) (-160,60,-39) (-150,60,-40) (-140,60,-40) (-130,60,-40) (-120,60,-39) (-110,60,-38) (-96,60,-36.5) (-90,60,-36) (-80,60,-35.5) (-70,60,-35) (-60,60,-35) (-50,60,-35) (-40,60,-35) (-30,60,-35.5) (-20,60,-36) (-10,60,-36) (0,60,-36.5) (10,60,-37.5) (20,60,-39) (30,60,-40) (40,60,-40) (50,60,-40) (60,60,-39) (70,60,-38) (85,60,-36.5) (90,60,-36) (100,60,-35.5) (110,60,-35) (120,60,-35) (130,60,-35) (140,60,-35) (150,60,-35.5) (160,60,-36) (170,60,-36) (180,60,-36.5)
};
% small bright spots and black dots on the null line
\addplot3[hm=3] coordinates {
(-44,28.6,-15) (-40,28.6,-15) (-36,28.6,-15)
(-44,29,-12.5) (-40,29,-6) (-36,29,-12.5)
(-44,29.8,-15) (-40,29.8,-15) (-36,29.8,-15)
};
\addplot3[hm=3] coordinates {
(137,27.8,-17) (140,27.8,-18) (143,27.8,-17)
(137,29.3,-13) (140,29.3,-1) (143,29.3,-13)
(137,31,-15) (140,31,-15) (143,31,-15)
};
\addplot3[hm=3] coordinates {
(-100,29,-26) (-96,29,-30) (-92,29,-26)
(-100,30,-30) (-96,30,-40) (-92,30,-30)
(-100,31,-26) (-96,31,-30) (-92,31,-26)
};
\addplot3[hm=3] coordinates {
(81,29,-26) (85,29,-30) (89,29,-26)
(81,30,-30) (85,30,-40) (89,30,-30)
(81,31,-26) (85,31,-30) (89,31,-26)
};
\addplot3[hm=2] coordinates {(-4.5,59.3,-40) (-0.5,59.3,-40) (-4.5,60,-40) (-0.5,60,-40)};
\addplot3[hm=2] coordinates {(0.5,59.3,-40) (4.5,59.3,-40) (0.5,60,-40) (4.5,60,-40)};
\end{axis}

% (e) 28.5 GHz
\begin{axis}[panel, at={(17.84cm,2.57cm)}, anchor=south west, title={$f=28.5$ GHz, $|E_{\mathrm{LHCP}}|$ (dB)}]
\addplot3[hm=37] coordinates {
(-180,0,-23.5) (-170,0,-23.5) (-160,0,-23.5) (-150,0,-23.5) (-140,0,-23.5) (-130,0,-23.5) (-120,0,-23.5) (-110,0,-23.5) (-100,0,-23.5) (-90,0,-23.5) (-80,0,-23.5) (-70,0,-23.5) (-60,0,-23.5) (-50,0,-23.5) (-40,0,-23.5) (-30,0,-23.5) (-20,0,-23.5) (-10,0,-23.5) (0,0,-23.5) (10,0,-23.5) (20,0,-23.5) (30,0,-23.5) (40,0,-23.5) (50,0,-23.5) (60,0,-23.5) (70,0,-23.5) (80,0,-23.5) (90,0,-23.5) (100,0,-23.5) (110,0,-23.5) (120,0,-23.5) (130,0,-23.5) (140,0,-23.5) (150,0,-23.5) (160,0,-23.5) (170,0,-23.5) (180,0,-23.5)
(-180,10,-21.5) (-170,10,-21.5) (-160,10,-21.5) (-150,10,-21.5) (-140,10,-21.5) (-130,10,-21.5) (-120,10,-21.5) (-110,10,-21.5) (-100,10,-21.5) (-90,10,-21.5) (-80,10,-21.5) (-70,10,-21.5) (-60,10,-21.5) (-50,10,-21.5) (-40,10,-21.5) (-30,10,-21.5) (-20,10,-21.5) (-10,10,-21.5) (0,10,-21.5) (10,10,-21.5) (20,10,-21.5) (30,10,-21.5) (40,10,-21.5) (50,10,-21.5) (60,10,-21.5) (70,10,-21.5) (80,10,-21.5) (90,10,-21.5) (100,10,-21.5) (110,10,-21.5) (120,10,-21.5) (130,10,-21.5) (140,10,-21.5) (150,10,-21.5) (160,10,-21.5) (170,10,-21.5) (180,10,-21.5)
(-180,22,-18.5) (-170,22,-18.5) (-160,22,-18.5) (-150,22,-18.5) (-140,22,-18.5) (-130,22,-18.5) (-120,22,-18.5) (-110,22,-18.5) (-100,22,-18.5) (-90,22,-18.5) (-80,22,-18.5) (-70,22,-18.5) (-60,22,-18.5) (-50,22,-18.5) (-40,22,-18.5) (-30,22,-18.5) (-20,22,-18.5) (-10,22,-18.5) (0,22,-18.5) (10,22,-18.5) (20,22,-18.5) (30,22,-18.5) (40,22,-18.5) (50,22,-18.5) (60,22,-18.5) (70,22,-18.5) (80,22,-18.5) (90,22,-18.5) (100,22,-18.5) (110,22,-18.5) (120,22,-18.5) (130,22,-18.5) (140,22,-18.5) (150,22,-18.5) (160,22,-18.5) (170,22,-18.5) (180,22,-18.5)
(-180,31.5,-16.5) (-170,32.5,-17) (-160,33.5,-17) (-150,35,-17) (-140,34.5,-17.5) (-130,35.5,-17) (-120,35,-17) (-110,34,-17) (-100,33.5,-18) (-90,32,-17) (-80,30.5,-17) (-70,31.5,-17) (-60,30,-18) (-50,30.5,-17.5) (-40,29.5,-19) (-30,30.5,-18) (-20,31.5,-17.5) (-10,31.5,-17.5) (0,31.5,-16.5) (10,32.5,-17) (20,33.5,-17) (30,35,-17) (40,34.5,-17.5) (50,35.5,-17) (60,35,-17) (70,34,-17) (80,33.5,-18) (90,32.5,-17) (100,30.5,-17) (110,31.5,-17) (120,30,-18) (130,30.5,-17.5) (140,29.5,-19) (150,30.5,-18) (160,31.5,-17.5) (170,31.5,-17.5) (180,31.5,-16.5)
(-180,33,-29) (-170,34,-30) (-160,35,-28) (-150,36.5,-28) (-140,36,-38) (-130,37,-29) (-120,36.5,-34) (-110,35.5,-33) (-100,35,-39) (-90,33.5,-27) (-80,32,-26) (-70,33,-26) (-60,31.5,-26) (-50,32,-29) (-40,31,-31) (-30,32,-32) (-20,33,-33) (-10,33,-32) (0,33,-30) (10,34,-30) (20,35,-28) (30,36.5,-28) (40,36,-38) (50,37,-29) (60,36.5,-34) (70,35.5,-33) (80,35,-39) (90,34,-25) (100,32,-25) (110,33,-26) (120,31.5,-26) (130,32,-29) (140,31,-31) (150,32,-32) (160,33,-33) (170,33,-32) (180,33,-30)
(-180,34,-21) (-170,35,-21) (-160,36,-21) (-150,37.5,-23) (-140,37,-25) (-130,38,-26) (-120,37.5,-24) (-110,36.5,-21) (-100,36,-19) (-90,34.5,-17) (-80,33,-15.5) (-70,34,-15) (-60,32.5,-12) (-50,33,-11) (-40,32,-10) (-30,33,-12) (-20,34,-14) (-10,34,-17) (0,34,-21) (10,35,-21) (20,36,-21) (30,37.5,-23) (40,37,-25) (50,38,-26) (60,37.5,-24) (70,36.5,-21) (80,36,-19) (90,35,-17) (100,33,-15.5) (110,34,-15) (120,32.5,-12) (130,33,-11) (140,32,-10) (150,33,-12) (160,34,-14) (170,34,-17) (180,34,-21)
(-180,36.5,-19) (-170,37.5,-22) (-160,38.5,-26) (-150,40,-29) (-140,39.5,-30) (-130,40.5,-30) (-120,40,-29) (-110,39,-26) (-100,38.5,-22) (-90,37,-18) (-80,35.5,-16) (-70,36.5,-15) (-60,35,-14) (-50,35,-13) (-40,35,-11) (-30,35.5,-11) (-20,36.5,-13) (-10,36.5,-15) (0,36.5,-19) (10,37.5,-22) (20,38.5,-26) (30,40,-29) (40,39.5,-30) (50,40.5,-30) (60,40,-29) (70,39,-26) (80,38.5,-22) (90,37,-18) (100,35.5,-16) (110,36.5,-15) (120,35,-14) (130,35,-13) (140,35,-11) (150,35.5,-11) (160,36.5,-13) (170,36.5,-15) (180,36.5,-19)
(-180,44,-26) (-170,44,-29) (-160,44,-33) (-150,44,-35) (-140,44,-34) (-130,44,-33) (-120,44,-31.5) (-110,44,-30) (-100,44,-28.5) (-90,44,-26.5) (-80,44,-25.5) (-70,44,-25) (-60,44,-24) (-50,44,-24) (-40,44,-24) (-30,44,-24.5) (-20,44,-25) (-10,44,-25.5) (0,44,-26) (10,44,-29) (20,44,-33) (30,44,-35) (40,44,-34) (50,44,-33) (60,44,-31.5) (70,44,-30) (80,44,-28.5) (90,44,-26.5) (100,44,-25.5) (110,44,-25) (120,44,-24) (130,44,-24) (140,44,-24) (150,44,-24.5) (160,44,-25) (170,44,-25.5) (180,44,-26)
(-180,50,-30) (-170,50,-31) (-160,50,-35) (-150,50,-38) (-140,50,-38) (-130,50,-37) (-120,50,-35.5) (-110,50,-33.5) (-100,50,-31) (-90,50,-30) (-80,50,-29) (-70,50,-28) (-60,50,-27.5) (-50,50,-27) (-40,50,-27) (-30,50,-27) (-20,50,-28) (-10,50,-29) (0,50,-30) (10,50,-31) (20,50,-35) (30,50,-38) (40,50,-38) (50,50,-37) (60,50,-35.5) (70,50,-33.5) (80,50,-31) (90,50,-30) (100,50,-29) (110,50,-28) (120,50,-27.5) (130,50,-27) (140,50,-27) (150,50,-27) (160,50,-28) (170,50,-29) (180,50,-30)
(-180,55,-32.5) (-170,55,-34) (-160,55,-37) (-150,55,-39.5) (-140,55,-40) (-130,55,-39) (-120,55,-38) (-110,55,-35.5) (-100,55,-33.5) (-90,55,-32.5) (-80,55,-31.5) (-70,55,-31) (-60,55,-30.5) (-50,55,-30) (-40,55,-30) (-30,55,-30.5) (-20,55,-31) (-10,55,-32) (0,55,-32.5) (10,55,-34) (20,55,-37) (30,55,-39.5) (40,55,-40) (50,55,-39) (60,55,-38) (70,55,-35.5) (80,55,-33.5) (90,55,-32.5) (100,55,-31.5) (110,55,-31) (120,55,-30.5) (130,55,-30) (140,55,-30) (150,55,-30.5) (160,55,-31) (170,55,-32) (180,55,-32.5)
(-180,60,-34.5) (-170,60,-36) (-160,60,-38.5) (-150,60,-40) (-140,60,-40) (-130,60,-40) (-120,60,-39) (-110,60,-37.5) (-100,60,-35.5) (-90,60,-34.5) (-80,60,-34) (-70,60,-33.5) (-60,60,-33) (-50,60,-32.5) (-40,60,-32.5) (-30,60,-33) (-20,60,-33.5) (-10,60,-34) (0,60,-34.5) (10,60,-36) (20,60,-38.5) (30,60,-40) (40,60,-40) (50,60,-40) (60,60,-39) (70,60,-37.5) (80,60,-35.5) (90,60,-34.5) (100,60,-34) (110,60,-33.5) (120,60,-33) (130,60,-32.5) (140,60,-32.5) (150,60,-33) (160,60,-33.5) (170,60,-34) (180,60,-34.5)
};
\addplot3[hm=2] coordinates {
(88.9,37,-32) (91.1,37,-32)
(88.9,60,-33.5) (91.1,60,-33.5)
};
\end{axis}

\node[font=\fontsize{22.5}{26}\selectfont] at (5.60,9.62) {(\textbf{a})};
\node[font=\fontsize{22.5}{26}\selectfont] at (16.52,9.62) {(\textbf{b})};
\node[font=\fontsize{22.5}{26}\selectfont] at (27.52,9.62) {(\textbf{c})};
\node[font=\fontsize{22.5}{26}\selectfont] at (11.06,0.60) {(\textbf{d})};
\node[font=\fontsize{22.5}{26}\selectfont] at (22.08,0.60) {(\textbf{e})};
\end{tikzpicture}
\end{document}
